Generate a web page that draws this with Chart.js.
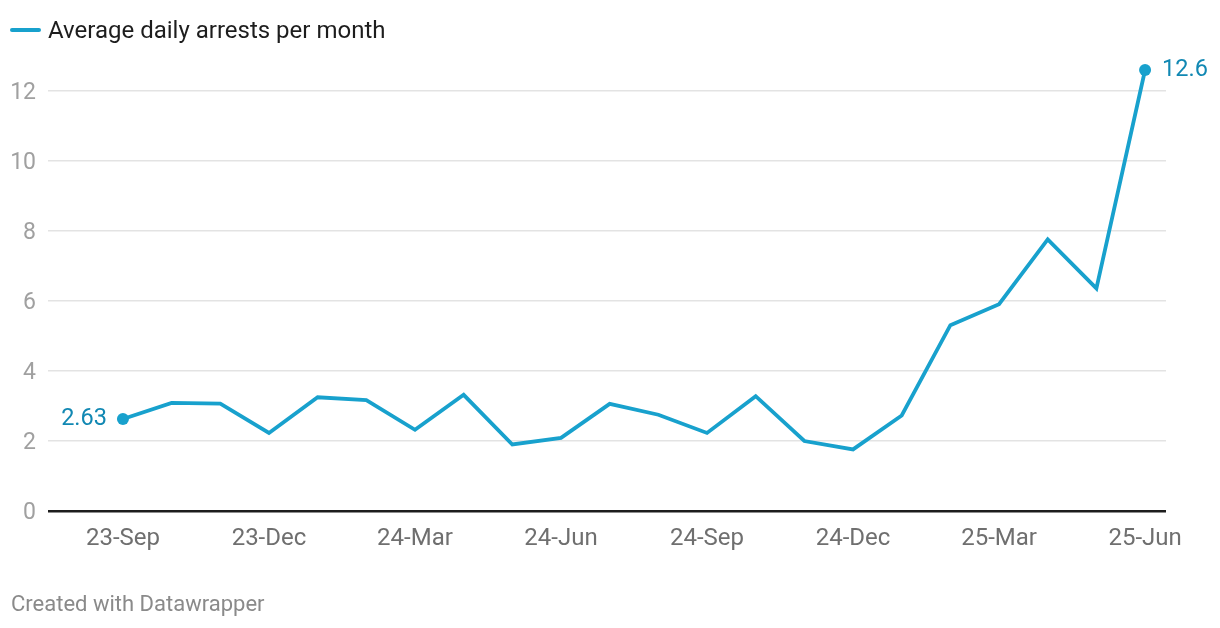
<!DOCTYPE html>
<html>
<head>
<meta charset="utf-8">
<script src="https://cdn.jsdelivr.net/npm/chart.js@4/dist/chart.umd.min.js"></script>
<style>
  html, body {
    margin: 0;
    padding: 0;
    background: #fff;
    font-family: Roboto, sans-serif;
  }
  #container {
    position: relative;
    width: 1220px;
    height: 628px;
  }
  #chart {
    position: absolute;
    left: 0;
    top: 0;
  }
  .legend {
    position: absolute;
    left: 10px;
    top: 15px;
    font-size: 24px;
    line-height: 30px;
    color: #1d1d1d;
  }
  .legend .swatch {
    display: inline-block;
    width: 31px;
    height: 4px;
    border-radius: 2px;
    background: #18a1cd;
    vertical-align: middle;
    margin-right: 7px;
    position: relative;
    top: -2px;
  }
  .footer {
    position: absolute;
    left: 11px;
    top: 591px;
    font-size: 22px;
    color: #8a8a8a;
  }
</style>
</head>
<body>
<div id="container">
  <canvas id="chart" width="1220" height="628"></canvas>
  <div class="legend"><span class="swatch"></span>Average daily arrests per month</div>
  <div class="footer">Created with Datawrapper</div>
</div>
<script>
var MONTHS = [
  '23-Sep', '23-Oct', '23-Nov', '23-Dec', '24-Jan', '24-Feb', '24-Mar',
  '24-Apr', '24-May', '24-Jun', '24-Jul', '24-Aug', '24-Sep', '24-Oct',
  '24-Nov', '24-Dec', '25-Jan', '25-Feb', '25-Mar', '25-Apr', '25-May',
  '25-Jun',
];
var ARRESTS = [
  2.63, 3.09, 3.07, 2.23, 3.25, 3.17, 2.32,
  3.32, 1.90, 2.09, 3.06, 2.75, 2.23, 3.28,
  2.00, 1.76, 2.73, 5.31, 5.91, 7.76, 6.36,
  12.6,
];
var X_TICKS = ['23-Sep', '23-Dec', '24-Mar', '24-Jun', '24-Sep', '24-Dec', '25-Mar', '25-Jun'];
var Y_TICKS = [0, 2, 4, 6, 8, 10, 12];
var VALUE_LABELS = ['2.63', '12.6'];

var LINE_COLOR = '#18a1cd';
var LABEL_COLOR = '#1188b3';

var points = [];
for (var i = 0; i < ARRESTS.length; i++) {
  points.push({x: i, y: ARRESTS[i]});
}

// Writes the first and last value next to their dots.
var endLabels = {
  id: 'endLabels',
  afterDatasetsDraw: function(chart) {
    var meta = chart.getDatasetMeta(0);
    var first = meta.data[0];
    var last = meta.data[meta.data.length - 1];
    var ctx = chart.ctx;
    ctx.save();
    ctx.font = '23.5px Roboto, sans-serif';
    ctx.fillStyle = LABEL_COLOR;
    ctx.textBaseline = 'middle';
    ctx.textAlign = 'right';
    ctx.fillText(VALUE_LABELS[0], first.x - 16, first.y);
    ctx.textAlign = 'left';
    ctx.fillText(VALUE_LABELS[1], last.x + 17, last.y);
    ctx.restore();
  },
};

new Chart(document.getElementById('chart'), {
  type: 'line',
  data: {
    datasets: [{
      data: points,
      borderColor: LINE_COLOR,
      backgroundColor: LINE_COLOR,
      borderWidth: 3.8,
      borderJoinStyle: 'miter',
      pointRadius: function(c) {
        return (c.dataIndex === 0 || c.dataIndex === ARRESTS.length - 1) ? 6 : 0;
      },
      pointBorderWidth: 0,
      clip: false,
    }],
  },
  options: {
    responsive: false,
    animation: false,
    layout: {
      padding: {top: 56, left: 0, right: 54, bottom: 0},
    },
    plugins: {
      legend: {display: false},
      tooltip: {enabled: false},
    },
    scales: {
      x: {
        type: 'linear',
        min: -1.54,
        max: 21.43,
        afterBuildTicks: function(scale) {
          scale.ticks = X_TICKS.map(function(label) {
            return {value: MONTHS.indexOf(label)};
          });
        },
        afterFit: function(scale) {
          scale.height = 117;
        },
        grid: {display: false},
        border: {display: false},
        ticks: {
          autoSkip: false,
          maxRotation: 0,
          padding: 6,
          color: '#6f6f6f',
          font: {family: 'Roboto', size: 24},
          callback: function(value) {
            return MONTHS[value];
          },
        },
      },
      y: {
        min: 0,
        max: 13,
        afterBuildTicks: function(scale) {
          scale.ticks = Y_TICKS.map(function(v) {
            return {value: v};
          });
        },
        afterFit: function(scale) {
          scale.width = 48;
        },
        border: {display: false},
        grid: {
          drawTicks: false,
          color: function(c) {
            return c.tick.value === 0 ? '#1d1d1d' : '#e3e3e3';
          },
          lineWidth: function(c) {
            return c.tick.value === 0 ? 2.5 : 1.5;
          },
        },
        ticks: {
          padding: 12,
          labelOffset: 2,
          color: '#a0a0a0',
          font: {family: 'Roboto', size: 23},
        },
      },
    },
  },
  plugins: [endLabels],
});
</script>
</body>
</html>
